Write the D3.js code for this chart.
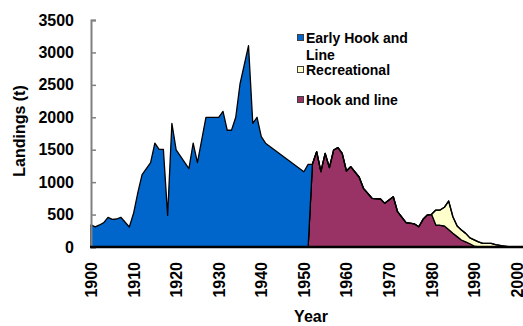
<!DOCTYPE html>
<html>
<head>
<meta charset="utf-8">
<script src="https://cdn.jsdelivr.net/npm/d3@7"></script>
<style>
  body { margin: 0; background: #fff; }
  text { font-family: "Liberation Sans", Arial, sans-serif; font-weight: bold; }
</style>
</head>
<body>
<svg id="chart" width="523" height="326"></svg>
<script>
// yearly landings (t)
const years = [1900,1901,1902,1903,1904,1905,1906,1907,1909,1910,1911,1912,1914,1915,1916,1917,1918,1919,1920,1923,1924,1925,1927,1930,1931,1932,1933,1934,1935,1937,1938,1939,1940,1941,1950,1951,
  1952,1953,1954,1955,1956,1957,1958,1959,1960,1961,
  1963,1964,1966,1968,1969,1971,1972,1974,1976,1977,1978,1979,1980,
  1981,1982,1983,1984,1985,1986,1987,1988,1989,1990,1991,1992,
  1994,1995,1997,1998,2000];
const early = [340,310,340,375,458,427,432,458,308,520,838,1115,1300,1600,1506,1506,488,1907,1496,1208,1600,1300,2000,2000,2092,1800,1800,2000,2513,3104,1907,2000,1701,1600,1161,1275,
  0,0,0,0,0,0,0,0,0,0,
  0,0,0,0,0,0,0,0,0,0,0,0,0,
  0,0,0,0,0,0,0,0,0,0,0,0,
  0,0,0,0,0];
const recreational = [0,0,0,0,0,0,0,0,0,0,0,0,0,0,0,0,0,0,0,0,0,0,0,0,0,0,0,0,0,0,0,0,0,0,0,0,
  0,0,0,0,0,0,0,0,0,0,
  0,0,0,0,0,0,0,0,0,0,0,0,0,
  231,235,288,439,256,164,154,130,90,95,80,57,
  57,35,15,5,0];
const hookLine = [0,0,0,0,0,0,0,0,0,0,0,0,0,0,0,0,0,0,0,0,0,0,0,0,0,0,0,0,0,0,0,0,0,0,0,0,
  1275,1470,1161,1444,1223,1496,1532,1444,1172,1238,
  1075,905,751,740,673,776,544,375,355,313,427,493,504,
  339,335,324,270,211,160,108,80,50,15,0,0,
  0,0,0,0,0];
const yTicks = [0,500,1000,1500,2000,2500,3000,3500];
const xTicks = [1900,1910,1920,1930,1940,1950,1960,1970,1980,1990,2000];

const series = [
  {key: "hook", name: "Hook and line", color: "#993366"},
  {key: "rec", name: "Recreational", color: "#FFFFCC"},
  {key: "early", name: "Early Hook and Line", color: "#0066CC"}
];

const table = years.map((yr, i) => ({year: yr, early: early[i], rec: recreational[i], hook: hookLine[i]}));

const svg = d3.select("#chart");

const x = d3.scaleLinear().domain([1900, 2001]).range([91, 521]);
const y = d3.scaleLinear().domain([0, 3500]).range([247, 20]);

const stacked = d3.stack().keys(series.map(s => s.key))(table);

const area = d3.area()
  .x(d => x(d.data.year))
  .y0(d => y(d[0]))
  .y1(d => y(d[1]));

svg.append("g").selectAll("path")
  .data(stacked)
  .enter()
  .append("path")
    .attr("d", area)
    .attr("fill", (d, i) => series[i].color)
    .attr("stroke", "#000")
    .attr("stroke-width", 1.3)
    .attr("stroke-linejoin", "round");

// y axis, grey with inside ticks
const yAxis = svg.append("g")
  .attr("transform", "translate(91,0)")
  .call(d3.axisLeft(y).tickValues(yTicks).tickSize(-5).tickPadding(17).tickFormat(d3.format("d")));
yAxis.select(".domain").attr("stroke", "#808080").attr("stroke-width", 2);
yAxis.selectAll(".tick line").attr("stroke", "#808080").attr("stroke-width", 1.5);
yAxis.selectAll("text").style("font-size", "16px").attr("fill", "#000");

// x axis, black line, vertical labels
const xAxis = svg.append("g")
  .attr("transform", "translate(0,247)")
  .call(d3.axisBottom(x).tickValues(xTicks).tickSize(0).tickFormat(d3.format("d")));
xAxis.select(".domain").remove();
xAxis.append("line")
  .attr("x1", 90).attr("x2", 523)
  .attr("stroke", "#000")
  .attr("stroke-width", 2.5);
xAxis.selectAll("text")
  .style("font-size", "16px")
  .attr("fill", "#000")
  .attr("transform", "rotate(-90)")
  .attr("text-anchor", "end")
  .attr("x", -15)
  .attr("y", 0)
  .attr("dy", "0.34em");

svg.append("text")
  .attr("x", 311)
  .attr("y", 322)
  .attr("text-anchor", "middle")
  .style("font-size", "16px")
  .text("Year");

svg.append("text")
  .attr("transform", "translate(19,131) rotate(-90)")
  .attr("text-anchor", "middle")
  .attr("dy", "0.36em")
  .style("font-size", "16px")
  .text("Landings (t)");

// legend
const legendItems = [
  {lines: ["Early Hook and", "Line"], color: "#0066CC", cy: 38},
  {lines: ["Recreational"], color: "#FFFFCC", cy: 70},
  {lines: ["Hook and line"], color: "#993366", cy: 100}
];
const legend = svg.append("g");
legendItems.forEach(item => {
  legend.append("rect")
    .attr("x", 297.5)
    .attr("y", item.cy - 3.5)
    .attr("width", 6)
    .attr("height", 6)
    .attr("fill", item.color)
    .attr("stroke", "#404040")
    .attr("stroke-width", 1);
  item.lines.forEach((t, j) => {
    legend.append("text")
      .attr("x", 306)
      .attr("y", item.cy + 5 + j * 17)
      .style("font-size", "14px")
      .text(t);
  });
});
</script>
</body>
</html>
